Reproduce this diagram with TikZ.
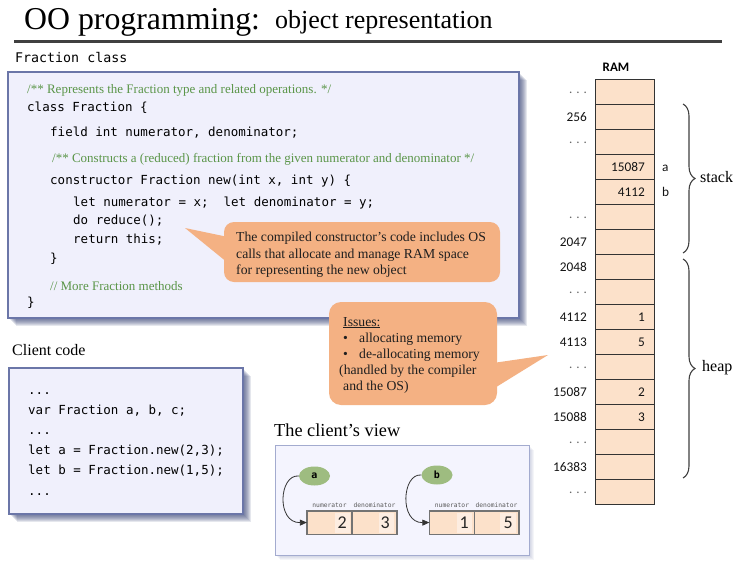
\documentclass[tikz,border=0pt]{standalone}
\usepackage{fontspec}
\setmainfont{Liberation Serif}
\newfontfamily\codefont{DejaVu Sans Mono}
\newfontfamily\numfont{Carlito}
\usetikzlibrary{arrows.meta,decorations.pathreplacing,shapes.geometric}

\definecolor{panelfill}{HTML}{F0F0FC}
\definecolor{panelline}{HTML}{6B76A8}
\definecolor{panelshadow}{HTML}{2E3A70}
\definecolor{commentgreen}{HTML}{5A9548}
\definecolor{calloutfill}{HTML}{F4B183}
\definecolor{cellfill}{HTML}{FCE1CA}
\definecolor{cellhi}{HTML}{FDEDE1}
\definecolor{refgreen}{HTML}{9EBC80}
\definecolor{viewfill}{HTML}{F4F4FE}
\definecolor{viewline}{HTML}{A3ABCF}
\definecolor{viewshadow}{HTML}{7680B0}

\begin{document}
\begin{tikzpicture}[x=1pt,y=-1pt,
  code/.style={font=\codefont\fontsize{12.5}{15}\selectfont, anchor=base west, inner sep=0},
  comment/.style={font=\fontsize{13}{15}\selectfont, text=commentgreen, anchor=base west, inner sep=0},
  note/.style={font=\fontsize{13.7}{16}\selectfont, text=black!88, anchor=base west, inner sep=0},
  heading/.style={anchor=base west, inner sep=0},
  addr/.style={font=\numfont\fontsize{13.3}{15}\selectfont, text=black!92, anchor=base east, inner sep=0},
  dots/.style={font=\numfont\fontsize{13}{15}\selectfont, text=black!60, anchor=base east, inner sep=0},
  refname/.style={font=\numfont\fontsize{13.3}{15}\selectfont, text=black!92, anchor=base west, inner sep=0},
  panel/.style={draw=panelline, fill=panelfill, line width=1.2pt, inner sep=0},
  viewpanel/.style={draw=viewline, fill=viewfill, line width=1pt, inner sep=0},
  cell/.style={draw=black!80, fill=cellfill, line width=0.9pt, minimum width=59pt, minimum height=25pt, inner sep=0, anchor=north west},
  field/.style={draw=black!55, fill=cellfill, line width=0.8pt, minimum width=44.5pt, minimum height=23pt, inner sep=0},
  fieldname/.style={font=\codefont\fontsize{6.3}{7}\selectfont, text=black!65, inner sep=0},
  fieldval/.style={font=\numfont\fontsize{18}{20}\selectfont, text=black!85, anchor=base east, inner sep=0},
  ref/.style={ellipse, fill=refgreen, minimum width=31pt, minimum height=19pt, inner sep=0, font=\codefont\bfseries\fontsize{10}{12}\selectfont},
  refarrow/.style={-{Triangle[length=7pt,width=6pt]}, line width=0.8pt, black!80},
  curly/.style={decorate, decoration={brace, amplitude=12pt}, line width=1.1pt, black!75}
]
\fill[white] (0,0) rectangle (737,565);
\useasboundingbox (0,0) rectangle (737,565);

% ---- title ----
\node[heading, font=\fontsize{31.8}{36}\selectfont] (title) at (24,29.3) {OO programming:};
\node[heading, font=\fontsize{26}{30}\selectfont] (subtitle) at (275,28.5) {object representation};
\coordinate (ruleL) at (14,41.5);
\coordinate (ruleR) at (722,41.5);
\draw[line width=2.2pt, black!75] (ruleL) -- (ruleR);

% ---- Fraction class ----
\node[heading, font=\codefont\fontsize{13.3}{15}\selectfont] (classlabel) at (15,62) {Fraction class};
\foreach \i in {1,...,8}
  \fill[panelshadow, opacity=0.12] (8+\i,72+\i) rectangle (519+\i,318+\i);
\node[panel, minimum width=511pt, minimum height=246pt] (classbox) at (263.5,195) {};

\node[comment] (c1) at (27,93.5) {/** Represents the Fraction type and related operations. */};
\node[code] (l1) at (27,111.5) {class Fraction \{};
\node[code] (l2) at (50,136.5) {field int numerator, denominator;};
\node[comment] (c2) at (52,162.5) {/** Constructs a (reduced) fraction from the given numerator and denominator */};
\node[code] (l3) at (50,184) {constructor Fraction new(int x, int y) \{};
\node[code] (l4) at (73,206.5) {let numerator = x;\ \ let denominator = y;};
\node[code] (l5) at (73,224.5) {do reduce();};
\node[code] (l6) at (73,243.5) {return this;};
\node[code] (l7) at (50,262.5) {\}};
\node[comment] (c3) at (50,290.5) {// More Fraction methods};
\node[code] (l8) at (27,306.5) {\}};

% ---- callout about the constructor ----
\node[fill=calloutfill, rounded corners=10pt, minimum width=276pt, minimum height=60pt, inner sep=0] (note1) at (362,252) {};
\fill[calloutfill] (185,228) -- (228,237) -- (228,263) -- cycle;
\node[note] (n1a) at (236,241.5) {The compiled constructor’s code includes OS};
\node[note] (n1b) at (236,258) {calls that allocate and manage RAM space};
\node[note] (n1c) at (236,274.3) {for representing the new object};

% ---- callout about memory issues ----
\node[fill=calloutfill, rounded corners=12pt, minimum width=168pt, minimum height=103pt, inner sep=0] (note2) at (413,353.5) {};
\fill[calloutfill] (548,355) -- (493,363) -- (493,389) -- cycle;
\node[note] (n2a) at (343,326) {\underline{Issues:}};
\node[note] (n2b) at (343,342) {•};
\node[note] (n2bt) at (359,342) {allocating memory};
\node[note] (n2c) at (343,358) {•};
\node[note] (n2ct) at (359,358) {de-allocating memory};
\node[note] (n2d) at (339,374) {(handled by the compiler};
\node[note] (n2e) at (343,390) {and the OS)};

% ---- client code ----
\node[heading, font=\fontsize{16}{18}\selectfont] (clientlabel) at (12,355.5) {Client code};
\foreach \i in {1,...,8}
  \fill[panelshadow, opacity=0.12] (9+\i,368+\i) rectangle (243+\i,514+\i);
\node[panel, minimum width=234pt, minimum height=146pt] (clientbox) at (126,441) {};
\node[code] (k1) at (28,394) {...};
\node[code] (k2) at (28,414.2) {var Fraction a, b, c;};
\node[code] (k3) at (28,434.4) {...};
\node[code] (k4) at (28,454.6) {let a = Fraction.new(2,3);};
\node[code] (k5) at (28,474.8) {let b = Fraction.new(1,5);};
\node[code] (k6) at (28,495) {...};

% ---- the client's view ----
\node[heading, font=\fontsize{18.3}{20}\selectfont] (viewlabel) at (274,436) {The client’s view};
\foreach \i in {1,...,5}
  \fill[viewshadow, opacity=0.08] (275+\i,445+\i) rectangle (529+\i,555+\i);
\node[viewpanel, minimum width=254pt, minimum height=110pt] (viewbox) at (402,500) {};

\node[ref] (va) at (314.5,476) {a};
\node[ref] (vb) at (437,475) {b};

\node[field] (ra1) at (329.5,522.5) {};
\node[field] (ra2) at (374.5,522.5) {};
\node[field] (rb1) at (452,522.5) {};
\node[field] (rb2) at (496.5,522.5) {};
\fill[cellhi] (335,513) rectangle (350,532.5);
\fill[cellhi] (379,513) rectangle (394,532.5);
\fill[cellhi] (457,513) rectangle (472,532.5);
\fill[cellhi] (500,513) rectangle (516,532.5);
\draw[black!55, line width=0.8pt] (ra1.north west) rectangle (ra2.south east) (ra1.north east) -- (ra1.south east);
\draw[black!55, line width=0.8pt] (rb1.north west) rectangle (rb2.south east) (rb1.north east) -- (rb1.south east);

\node[fieldname] (fa1) at (329.5,505) {numerator};
\node[fieldname] (fa2) at (374.5,505) {denominator};
\node[fieldname] (fb1) at (452,505) {numerator};
\node[fieldname] (fb2) at (496.5,505) {denominator};

\node[fieldval] (xa1) at (347,528.5) {2};
\node[fieldval] (xa2) at (390,528.5) {3};
\node[fieldval] (xb1) at (469,528.5) {1};
\node[fieldval] (xb2) at (513,528.5) {5};

\draw[refarrow] (va.west) .. controls (279,474) and (276,523) .. (ra1.west);
\draw[refarrow] (vb.west) .. controls (402,473) and (399,523) .. (rb1.west);

% ---- RAM ----
\node[font=\numfont\bfseries\fontsize{13}{15}\selectfont, inner sep=0] (ramlabel) at (616,67) {RAM};
\foreach \i in {0,...,16}
  \node[cell] (m\i) at (595,{79+25*\i}) {};
\foreach \i/\a in {1/256,6/2047,7/2048,9/4112,10/4113,12/15087,13/15088,15/16383}
  \node[addr] (ad\i) at (587,{96+25*\i}) {\a};
\foreach \i in {0,2,5,8,11,14,16}
  \node[dots] (dt\i) at (587,{93.5+25*\i}) {. . .};
\foreach \i/\v in {3/15087,4/4112,9/1,10/5,12/2,13/3}
  \node[addr] (val\i) at (645,{96+25*\i}) {\v};
\node[refname] (sa) at (662,171) {a};
\node[refname] (sb) at (662,196) {b};

\coordinate (stackTop) at (683,104);
\coordinate (stackBot) at (683,253);
\coordinate (heapTop) at (683,259);
\coordinate (heapBot) at (683,478);
\draw[curly] (stackTop) -- (stackBot);
\draw[curly] (heapTop) -- (heapBot);
\node[heading, font=\fontsize{16}{18}\selectfont] (stacklabel) at (700,182.5) {stack};
\node[heading, font=\fontsize{16}{18}\selectfont] (heaplabel) at (702,371.5) {heap};
\end{tikzpicture}
\end{document}
